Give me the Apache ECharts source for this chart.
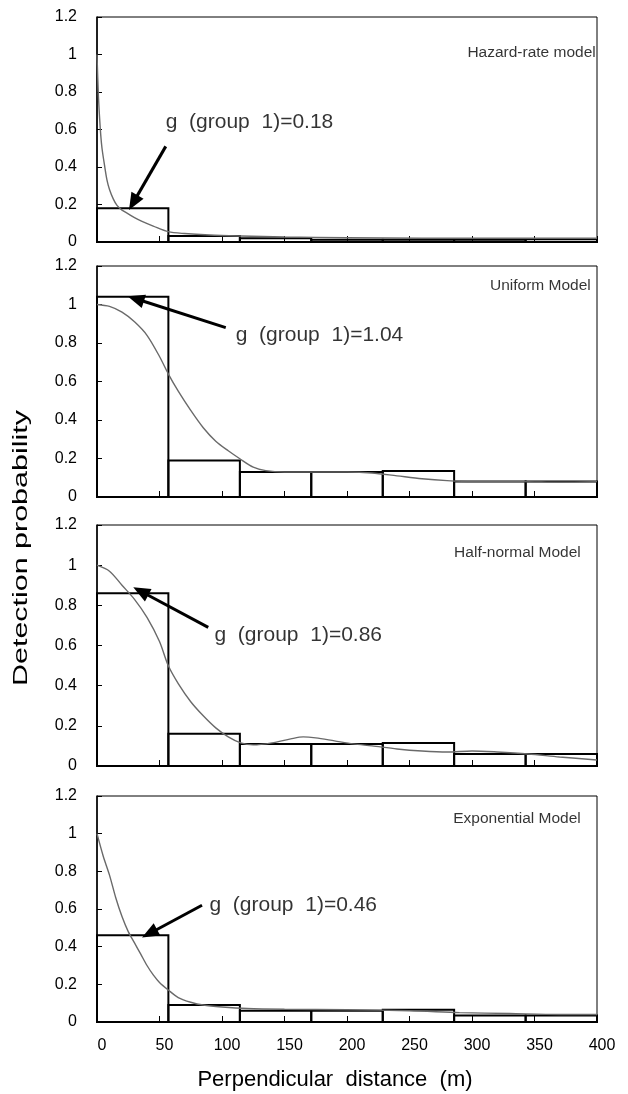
<!DOCTYPE html>
<html>
<head>
<meta charset="utf-8">
<script src="https://cdn.jsdelivr.net/npm/echarts@6/dist/echarts.min.js"></script>
<style>
  html, body {margin: 0; padding: 0; background: #fff;}
  #chart {width: 628px; height: 1094px;}
</style>
</head>
<body>
<div id="chart"></div>
<script>
// bin edges of the histogram (m)
const binStart = [0, 57.1, 114.3, 171.4, 228.6, 285.7, 342.9];
const binEnd = [57.1, 114.3, 171.4, 228.6, 285.7, 342.9, 400];

const xTicks = [0, 50, 100, 150, 200, 250, 300, 350, 400];
const yTicks = [0, 0.2, 0.4, 0.6, 0.8, 1, 1.2];

const modelNames = ['Hazard-rate model', 'Uniform Model', 'Half-normal Model', 'Exponential Model'];
const gValues = ['0.18', '1.04', '0.86', '0.46'];

// scaled histogram heights per model
const hazardBins = [0.18, 0.032, 0.02, 0.012, 0.012, 0.012, 0.015];
const uniformBins = [1.04, 0.19, 0.13, 0.13, 0.135, 0.08, 0.08];
const halfNormalBins = [0.86, 0.16, 0.11, 0.11, 0.115, 0.06, 0.06];
const expBins = [0.46, 0.09, 0.06, 0.06, 0.065, 0.035, 0.035];

// fitted detection functions, [distance, probability]
const hazardCurve = [[0, 1.0], [1, 0.8], [2, 0.67], [3, 0.57], [4, 0.5], [6, 0.41], [8, 0.33], [10, 0.28],
  [13, 0.23], [16, 0.195], [20, 0.17], [25, 0.15], [30, 0.13], [36, 0.11], [45, 0.085], [57, 0.055],
  [70, 0.045], [90, 0.037], [115, 0.032], [150, 0.027], [200, 0.023], [260, 0.02], [330, 0.02], [400, 0.02]];
const uniformCurve = [[0, 1.0], [10, 0.99], [20, 0.96], [30, 0.91], [40, 0.84], [50, 0.73], [57, 0.64],
  [65, 0.55], [75, 0.45], [85, 0.36], [95, 0.29], [105, 0.24], [114, 0.2], [125, 0.155], [135, 0.137],
  [150, 0.13], [175, 0.13], [200, 0.13], [220, 0.125], [240, 0.11], [260, 0.095], [280, 0.085],
  [300, 0.08], [340, 0.08], [370, 0.077], [400, 0.08]];
const halfNormalCurve = [[0, 1.0], [10, 0.97], [20, 0.9], [30, 0.83], [40, 0.74], [50, 0.62], [57, 0.5],
  [65, 0.41], [75, 0.32], [85, 0.25], [95, 0.19], [105, 0.145], [115, 0.115], [125, 0.105], [140, 0.115],
  [155, 0.135], [165, 0.145], [175, 0.14], [190, 0.125], [205, 0.11], [220, 0.1], [240, 0.085],
  [260, 0.075], [280, 0.07], [300, 0.075], [320, 0.07], [345, 0.06], [370, 0.045], [400, 0.03]];
const expCurve = [[0, 1.0], [5, 0.88], [10, 0.78], [15, 0.66], [20, 0.56], [25, 0.48], [30, 0.42],
  [35, 0.36], [40, 0.3], [45, 0.25], [50, 0.21], [57, 0.17], [65, 0.13], [75, 0.105], [85, 0.09],
  [100, 0.08], [120, 0.072], [150, 0.068], [200, 0.065], [250, 0.06], [290, 0.05], [330, 0.045],
  [370, 0.04], [400, 0.04]];

// annotation anchors in data units
const labelAt = [[55, 0.64], [111, 0.84], [94, 0.65], [90, 0.62]];
const arrowFrom = [[55, 0.51], [103, 0.88], [89, 0.69], [84, 0.62]];
const arrowTo = [[29, 0.21], [31, 1.03], [35, 0.87], [42, 0.47]];
const modelAt = [[399, 1.01], [395, 1.1], [387, 1.06], [387, 1.08]];

const bins = [hazardBins, uniformBins, halfNormalBins, expBins];
const curves = [hazardCurve, uniformCurve, halfNormalCurve, expCurve];

const font = 'Liberation Sans, Arial, sans-serif';
const panels = [
  {top: 17, height: 225},
  {top: 266, height: 231},
  {top: 525, height: 241},
  {top: 796, height: 226}
];

const chart = echarts.init(document.getElementById('chart'), null, {renderer: 'canvas'});

function renderBin(params, api) {
  const p0 = api.coord([api.value(0), api.value(2)]);
  const p1 = api.coord([api.value(1), 0]);
  return {
    type: 'rect',
    shape: {x: p0[0], y: p0[1], width: p1[0] - p0[0], height: p1[1] - p0[1]},
    style: {fill: 'none', stroke: '#000', lineWidth: 2}
  };
}

const grid = [], xAxis = [], yAxis = [], series = [];
panels.forEach((p, i) => {
  const last = i === panels.length - 1;
  grid.push({left: 97, right: 31, top: p.top, height: p.height, show: true, borderColor: '#000', borderWidth: 1});
  xAxis.push({
    gridIndex: i, type: 'value', min: xTicks[0], max: xTicks[xTicks.length - 1], interval: 50,
    axisLine: {lineStyle: {color: '#000', width: 1.5}},
    axisTick: {inside: true, length: 6, lineStyle: {color: '#000'}},
    splitLine: {show: false},
    axisLabel: {show: last, color: '#000', fontSize: 16, fontFamily: font, margin: 16, padding: [0, 0, 0, 10]},
    name: last ? 'Perpendicular  distance  (m)' : '',
    nameLocation: 'middle', nameGap: 47,
    nameTextStyle: {color: '#000', fontSize: 22, fontFamily: font, padding: [0, 24, 0, 0]}
  });
  yAxis.push({
    gridIndex: i, type: 'value', min: yTicks[0], max: yTicks[yTicks.length - 1], interval: 0.2,
    axisLine: {show: true, lineStyle: {color: '#000', width: 1.5}},
    axisTick: {show: true, inside: true, length: 5, lineStyle: {color: '#000'}},
    splitLine: {show: false},
    axisLabel: {color: '#000', fontSize: 16, fontFamily: font, margin: 20}
  });
  series.push({
    type: 'custom', xAxisIndex: i, yAxisIndex: i, renderItem: renderBin, silent: true,
    data: bins[i].map((v, k) => [binStart[k], binEnd[k], v]), z: 2
  });
  series.push({
    type: 'line', xAxisIndex: i, yAxisIndex: i, data: curves[i], smooth: 0.3,
    showSymbol: false, silent: true, z: 3,
    lineStyle: {color: '#6a6a6a', width: 1.4},
    markLine: {
      silent: true, symbol: ['none', 'triangle'], symbolSize: [14, 17],
      label: {show: false},
      lineStyle: {color: '#000', width: 3, type: 'solid'},
      data: [[{coord: arrowFrom[i]}, {coord: arrowTo[i]}]]
    }
  });
  series.push({
    type: 'scatter', xAxisIndex: i, yAxisIndex: i, symbolSize: 0, silent: true, z: 4,
    data: [labelAt[i]],
    label: {show: true, position: 'right', distance: 0, color: '#000', fontSize: 21, fontFamily: font,
      formatter: () => 'g  (group  1)=' + gValues[i]}
  });
  series.push({
    type: 'scatter', xAxisIndex: i, yAxisIndex: i, symbolSize: 0, silent: true, z: 4,
    data: [modelAt[i]],
    label: {show: true, position: 'left', distance: 0, color: '#000', fontSize: 15.5, fontFamily: font,
      formatter: () => modelNames[i]}
  });
});

chart.setOption({
  animation: false,
  backgroundColor: '#fff',
  grid: grid,
  xAxis: xAxis,
  yAxis: yAxis,
  series: series,
  graphic: [{
    type: 'text', x: 11, y: 686, rotation: Math.PI / 2, scaleX: 1.45,
    style: {text: 'Detection probability', fill: '#000', fontSize: 21, fontFamily: font,
      align: 'left', verticalAlign: 'top'}
  }]
});
</script>
</body>
</html>
